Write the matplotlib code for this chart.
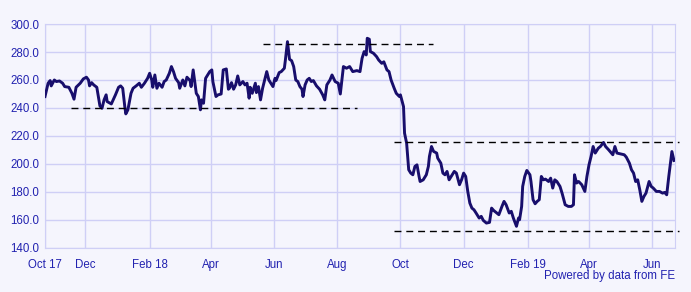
import numpy as np
import pandas as pd
import matplotlib
matplotlib.use("Agg")
import matplotlib.pyplot as plt

# price series: day offset from start date, price
start_date = "2017-10-23"
end_date = "2019-06-23"
day_offsets = [
    0, 3, 5, 6, 9, 11, 14, 17, 19, 23, 26, 28, 30, 34, 37, 40, 42, 43, 45, 47,
    50, 53, 55, 57, 59, 60, 64, 68, 71, 73, 75, 77, 78, 80, 83, 85, 88, 91, 93, 96,
    99, 101, 103, 104, 106, 108, 110, 113, 115, 117, 120, 122, 124, 126, 129, 130, 133, 135, 137, 140,
    141, 143, 145, 146, 148, 150, 151, 153, 155, 159, 161, 162, 165, 167, 170, 172, 175, 177, 178, 180,
    182, 184, 186, 188, 191, 193, 195, 197, 198, 200, 203, 204, 206, 208, 210, 212, 214, 216, 218, 220,
    222, 223, 226, 228, 231, 232, 234, 236, 238, 240, 242, 244, 246, 248, 249, 251, 253, 255, 257, 259,
    262, 265, 268, 270, 272, 275, 277, 280, 283, 285, 288, 291, 294, 297, 301, 304, 306, 308, 310, 311,
    313, 314, 317, 320, 322, 325, 327, 330, 332, 334, 337, 339, 342, 343, 346, 347, 349, 350, 351, 353,
    355, 357, 359, 361, 362, 365, 368, 370, 371, 373, 375, 378, 379, 382, 384, 386, 388, 390, 392, 395,
    397, 400, 402, 404, 406, 408, 410, 412, 414, 416, 419, 421, 423, 426, 429, 431, 433, 436, 438, 441,
    443, 445, 448, 450, 452, 455, 457, 458, 460, 461, 463, 465, 468, 469, 471, 473, 475, 477, 479, 481,
    483, 486, 488, 490, 492, 494, 497, 499, 502, 505, 508, 510, 511, 513, 515, 518, 521, 523, 525, 527,
    529, 531, 534, 536, 539, 541, 544, 548, 550, 552, 555, 559, 561, 564, 566, 568, 570, 572, 574, 576,
    578, 580, 583, 585, 587, 590, 593, 596, 598, 600, 602, 605, 607,
]
prices = [
    248.2, 257.7, 259.6, 255.8, 260.0, 258.9, 259.3, 257.7, 255.3, 254.8, 250.5, 246.3, 254.8, 257.7, 260.8, 262.0, 260.0, 255.8, 258.1, 256.5,
    254.8, 241.5, 239.8, 245.8, 249.4, 244.6, 242.9, 249.4, 254.8, 255.8, 254.1, 241.0, 235.8, 238.7, 250.5, 254.1, 255.8, 257.7, 254.8, 257.7,
    261.2, 264.8, 260.0, 254.8, 263.6, 254.1, 257.7, 254.8, 258.9, 260.0, 264.8, 269.6, 266.0, 261.2, 258.1, 254.1, 260.0, 255.8, 262.0, 259.6,
    255.3, 267.2, 255.8, 250.5, 248.2, 238.7, 245.8, 243.4, 261.2, 266.0, 267.2, 258.9, 248.2, 249.4, 250.0, 267.2, 267.9, 253.4, 254.1, 258.1,
    253.4, 256.5, 262.9, 256.5, 258.9, 256.5, 257.7, 247.0, 254.8, 250.5, 257.7, 251.0, 255.3, 245.8, 254.1, 260.0, 266.0, 260.0, 257.7, 255.3,
    261.2, 259.6, 265.3, 266.0, 268.4, 274.3, 287.4, 274.8, 273.8, 269.6, 260.0, 258.9, 255.3, 253.4, 248.2, 256.5, 260.0, 261.2, 258.9, 259.6,
    255.8, 253.4, 249.4, 245.8, 256.5, 260.0, 263.6, 258.9, 257.7, 250.0, 269.6, 268.4, 269.6, 266.0, 266.7, 266.0, 275.5, 280.3, 277.9, 289.8,
    289.1, 280.3, 279.1, 276.7, 274.3, 271.9, 273.0, 267.2, 266.0, 260.0, 254.1, 250.5, 248.2, 249.4, 241.0, 222.0, 214.9, 205.4, 195.9, 193.5,
    192.3, 198.3, 199.4, 191.1, 187.5, 188.7, 192.3, 198.3, 205.4, 212.5, 209.0, 207.8, 204.2, 200.6, 193.5, 192.3, 194.7, 188.7, 191.1, 194.7,
    193.5, 185.2, 188.7, 193.5, 191.1, 180.4, 172.1, 168.5, 167.3, 165.0, 161.4, 162.6, 159.7, 157.8, 158.3, 168.5, 166.8, 165.0, 163.8, 169.7,
    173.3, 170.9, 165.0, 166.2, 161.4, 155.5, 161.4, 160.2, 169.7, 184.0, 191.1, 195.4, 192.3, 187.5, 174.5, 171.6, 173.3, 174.5, 191.1, 188.7,
    189.2, 187.5, 189.9, 182.8, 188.7, 187.5, 184.0, 179.2, 170.9, 169.7, 169.7, 170.9, 192.3, 186.4, 187.5, 185.2, 180.4, 191.1, 199.4, 205.4,
    212.5, 207.8, 211.3, 212.5, 215.4, 212.5, 210.1, 206.6, 212.5, 207.8, 207.3, 206.6, 204.9, 200.6, 195.9, 193.5, 187.5, 188.7, 181.6, 173.3,
    176.8, 179.2, 187.5, 184.0, 182.8, 180.4, 180.4, 179.2, 179.7, 178.0, 191.1, 208.9, 202.5,
]

# dashed range lines: level, first day offset, last day offset
band_levels = [240.0, 285.5, 215.5, 152.5]
band_starts = [25, 210, 337, 337]
band_ends = [301, 374, 612, 612]

tick_dates = ["2017-10-23", "2017-12-01", "2018-02-01", "2018-04-01", "2018-06-01", "2018-08-01",
              "2018-10-01", "2018-12-01", "2019-02-01", "2019-04-01", "2019-06-01"]
tick_labels = ["Oct 17", "Dec", "Feb 18", "Apr", "Jun", "Aug", "Oct", "Dec", "Feb 19", "Apr", "Jun"]
y_ticks = [140, 160, 180, 200, 220, 240, 260, 280, 300]

bg = "#f5f5fd"
grid_col = "#cfcff6"
text_col = "#2222b0"
line_col = "#180e6c"

plt.rcParams["font.family"] = ["Liberation Sans", "DejaVu Sans"]

t0 = pd.Timestamp(start_date)
dates = t0 + pd.to_timedelta(day_offsets, unit="D")

fig = plt.figure(figsize=(6.91, 2.92), dpi=100, facecolor=bg)
ax = fig.add_axes([45 / 691, 44 / 292, 630 / 691, 224 / 292], facecolor=bg)

ax.plot(dates, prices, color=line_col, lw=2.1, solid_joinstyle="round", zorder=3)

for lvl, s, e in zip(band_levels, band_starts, band_ends):
    ax.plot([t0 + pd.Timedelta(days=s), t0 + pd.Timedelta(days=e)], [lvl, lvl],
            color="black", lw=1.0, ls=(0, (5, 3.5)), clip_on=False, zorder=4)

ax.set_xlim(t0, pd.Timestamp(end_date))
ax.set_ylim(140, 300)
ax.set_yticks(y_ticks)
ax.set_yticklabels(["%.1f" % v for v in y_ticks])
ax.set_xticks(pd.to_datetime(tick_dates))
ax.set_xticklabels(tick_labels)

ax.grid(True, color=grid_col, lw=1.0)
ax.set_axisbelow(True)
for sp in ax.spines.values():
    sp.set_color(grid_col)
ax.tick_params(length=0, colors=text_col, labelsize=8.3)
ax.tick_params(axis="x", pad=8)
ax.tick_params(axis="y", pad=4)

fig.text(675 / 691, 1 - 276 / 292, "Powered by data from FE", ha="right", va="center",
         color=text_col, fontsize=8.3)

fig.savefig("out.png", dpi=100, facecolor=bg)
